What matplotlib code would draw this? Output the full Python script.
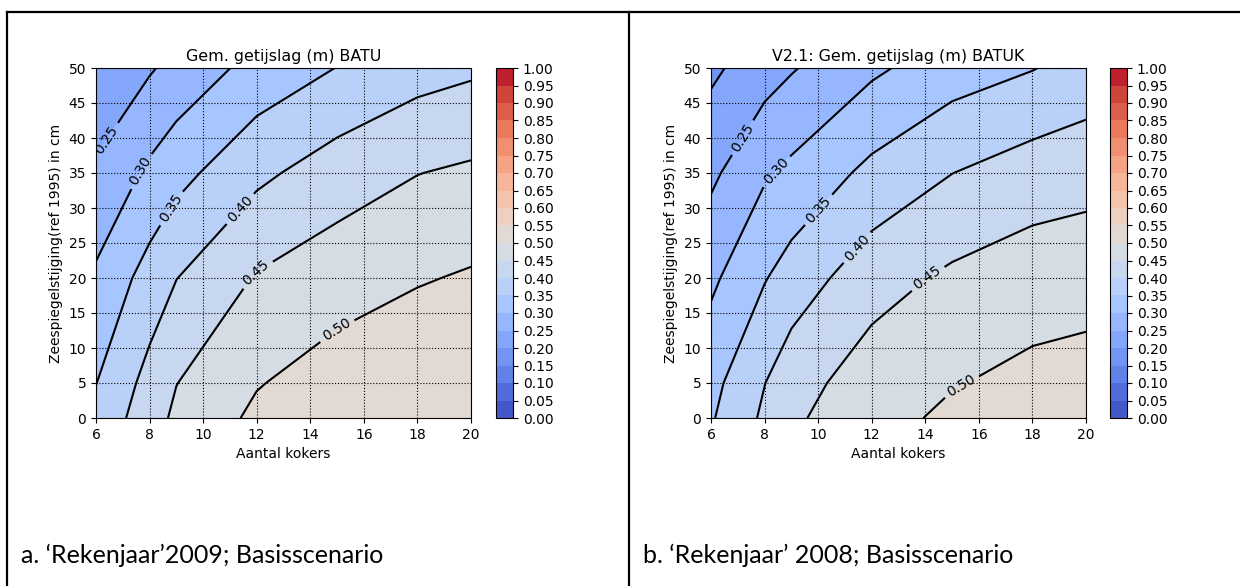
import matplotlib
matplotlib.use("Agg")
import matplotlib.pyplot as plt
import numpy as np
from matplotlib.lines import Line2D

# grid of the tidal-range table
KOKERS = [6, 8, 9, 12, 15, 18, 20]          # Aantal kokers
ZEESPIEGEL = [0, 5, 20, 35, 50]             # zeespiegelstijging in cm

# gem. getijslag (m), one row per zeespiegel value
GETIJSLAG_BATU = [
    [0.364, 0.428, 0.460, 0.510, 0.530, 0.548, 0.549],
    [0.349, 0.417, 0.449, 0.497, 0.523, 0.540, 0.545],
    [0.308, 0.370, 0.399, 0.454, 0.478, 0.496, 0.505],
    [0.258, 0.310, 0.334, 0.389, 0.425, 0.449, 0.458],
    [0.210, 0.245, 0.265, 0.317, 0.351, 0.381, 0.392],
]
GETIJSLAG_BATUK = [
    [0.345, 0.409, 0.442, 0.482, 0.510, 0.525, 0.530],
    [0.335, 0.399, 0.430, 0.475, 0.497, 0.513, 0.520],
    [0.290, 0.347, 0.372, 0.430, 0.459, 0.476, 0.479],
    [0.240, 0.294, 0.311, 0.363, 0.3995, 0.424, 0.433],
    [0.190, 0.229, 0.246, 0.291, 0.327, 0.348, 0.368],
]

TITLES = ["Gem. getijslag (m) BATU", "V2.1: Gem. getijslag (m) BATUK"]
CAPTIONS = ["a. \u2018Rekenjaar\u20192009; Basisscenario",
            "b. \u2018Rekenjaar\u2019 2008; Basisscenario"]
LABEL_SPOTS = [
    [(6.3, 40), (7.7, 35.2), (8.8, 30), (11.35, 30), (11.9, 21), (14.9, 13)],
    [(7.2, 40), (8.5, 35), (10.0, 29.8), (11.35, 24.7), (14.15, 19.6), (15.3, 4.9)],
]

LEVELS = np.round(np.arange(0, 1.0001, 0.05), 2)
W, H = 1240, 586


def px(x0, y0, w, h):
    return [x0 / W, 1 - (y0 + h) / H, w / W, h / H]


fig = plt.figure(figsize=(W / 100, H / 100), dpi=100)

panels = [(GETIJSLAG_BATU, 96, 496, 21), (GETIJSLAG_BATUK, 711, 1110, 643)]
X, Y = np.meshgrid(KOKERS, ZEESPIEGEL)
for i, (data, ax_x, cb_x, cap_x) in enumerate(panels):
    Z = np.array(data)
    ax = fig.add_axes(px(ax_x, 68, 375, 350))
    cf = ax.contourf(X, Y, Z, levels=LEVELS, cmap="coolwarm")
    cs = ax.contour(X, Y, Z, levels=LEVELS, colors="k", linewidths=1.5)
    ax.clabel(cs, inline=True, fmt="%.2f", fontsize=10, manual=LABEL_SPOTS[i])
    ax.grid(True, color="k", ls=":", lw=0.8)
    ax.set_xticks(range(6, 21, 2))
    ax.set_yticks(range(0, 51, 5))
    ax.set_xlim(6, 20)
    ax.set_ylim(0, 50)
    ax.tick_params(labelsize=10)
    ax.set_title(TITLES[i], fontsize=11.4, pad=5)
    ax.set_xlabel("Aantal kokers", fontsize=10)
    ax.set_ylabel("Zeespiegelstijging(ref 1995) in cm", fontsize=10)

    cax = fig.add_axes(px(cb_x, 68, 17, 350))
    cb = fig.colorbar(cf, cax=cax)
    cb.set_ticks(LEVELS)
    cb.ax.set_yticklabels([f"{v:.2f}" for v in LEVELS])
    cb.ax.tick_params(labelsize=10)

    fig.text(cap_x / W, 1 - 555 / H, CAPTIONS[i], fontsize=18,
             family=["Lato", "DejaVu Sans"], va="center", ha="left")

# table borders
for xs, ys in [((7, W), (12, 12)), ((7, 7), (12, H)), ((629, 629), (12, H))]:
    fig.add_artist(Line2D([x / W for x in xs], [1 - y / H for y in ys],
                          color="k", lw=1.6))

fig.savefig("out.png", dpi=100)
